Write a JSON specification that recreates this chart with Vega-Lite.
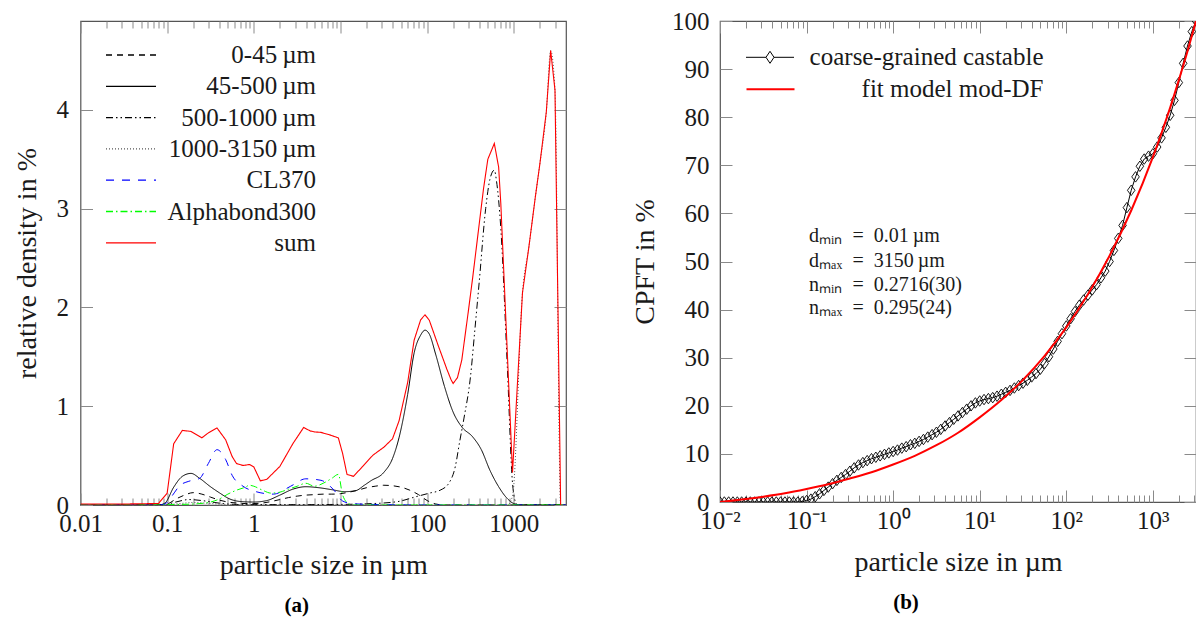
{
  "$schema": "https://vega.github.io/schema/vega-lite/v6.json",
  "background": "white",
  "padding": {"left": 11.5, "top": 8, "right": 0, "bottom": 0},
  "spacing": 153.5,
  "bounds": "flush",
  "resolve": {"scale": {"color": "independent", "strokeDash": "independent"}, "legend": {"color": "independent", "strokeDash": "independent"}},
  "config": {
    "font": "Liberation Serif",
    "view": {"stroke": "#555555", "strokeWidth": 1.2},
    "axis": {"grid": false, "domain": false, "tickColor": "#8a8a8a", "tickWidth": 1, "labelFont": "Liberation Serif", "labelFontSize": 25, "labelColor": "#1a1a1a", "titleFont": "Liberation Serif", "titleFontSize": 28, "titleFontWeight": "normal", "titleColor": "#1a1a1a"},
    "legend": {"labelFont": "Liberation Serif", "labelFontSize": 25, "labelColor": "#1a1a1a", "symbolType": "stroke", "padding": 0},
    "title": {"font": "Liberation Serif", "fontSize": 21, "fontWeight": "bold", "color": "#000000"}
  },
  "datasets": {
    "a": [
      {"x":0.01,"y":0,"s":"0-45\u2009µm"},{"x":0.0794,"y":0,"s":"0-45\u2009µm"},{"x":0.1,"y":0.01,"s":"0-45\u2009µm"},{"x":0.1259,"y":0.06,"s":"0-45\u2009µm"},{"x":0.1585,"y":0.10,"s":"0-45\u2009µm"},{"x":0.1995,"y":0.125,"s":"0-45\u2009µm"},{"x":0.2512,"y":0.11,"s":"0-45\u2009µm"},{"x":0.3162,"y":0.08,"s":"0-45\u2009µm"},{"x":0.3981,"y":0.05,"s":"0-45\u2009µm"},{"x":0.5012,"y":0.03,"s":"0-45\u2009µm"},{"x":0.631,"y":0.02,"s":"0-45\u2009µm"},{"x":0.7943,"y":0.015,"s":"0-45\u2009µm"},{"x":1,"y":0.015,"s":"0-45\u2009µm"},{"x":1.259,"y":0.02,"s":"0-45\u2009µm"},{"x":1.585,"y":0.035,"s":"0-45\u2009µm"},{"x":1.995,"y":0.055,"s":"0-45\u2009µm"},{"x":2.512,"y":0.075,"s":"0-45\u2009µm"},{"x":3.162,"y":0.09,"s":"0-45\u2009µm"},{"x":3.981,"y":0.1,"s":"0-45\u2009µm"},{"x":5.012,"y":0.105,"s":"0-45\u2009µm"},{"x":6.31,"y":0.11,"s":"0-45\u2009µm"},{"x":7.943,"y":0.11,"s":"0-45\u2009µm"},{"x":10,"y":0.115,"s":"0-45\u2009µm"},{"x":12.59,"y":0.13,"s":"0-45\u2009µm"},{"x":15.85,"y":0.15,"s":"0-45\u2009µm"},{"x":19.95,"y":0.175,"s":"0-45\u2009µm"},{"x":25.12,"y":0.19,"s":"0-45\u2009µm"},{"x":31.62,"y":0.2,"s":"0-45\u2009µm"},{"x":39.81,"y":0.195,"s":"0-45\u2009µm"},{"x":50.12,"y":0.18,"s":"0-45\u2009µm"},{"x":63.1,"y":0.15,"s":"0-45\u2009µm"},{"x":79.43,"y":0.105,"s":"0-45\u2009µm"},{"x":100,"y":0.045,"s":"0-45\u2009µm"},{"x":125.9,"y":0.01,"s":"0-45\u2009µm"},{"x":158.5,"y":0,"s":"0-45\u2009µm"},{"x":3981,"y":0,"s":"0-45\u2009µm"},

      {"x":0.01,"y":0,"s":"45-500\u2009µm"},{"x":0.0794,"y":0,"s":"45-500\u2009µm"},{"x":0.0944,"y":0.02,"s":"45-500\u2009µm"},{"x":0.1189,"y":0.18,"s":"45-500\u2009µm"},{"x":0.1496,"y":0.29,"s":"45-500\u2009µm"},{"x":0.1884,"y":0.32,"s":"45-500\u2009µm"},{"x":0.2371,"y":0.27,"s":"45-500\u2009µm"},{"x":0.3162,"y":0.185,"s":"45-500\u2009µm"},{"x":0.3981,"y":0.125,"s":"45-500\u2009µm"},{"x":0.5309,"y":0.06,"s":"45-500\u2009µm"},{"x":0.7079,"y":0.035,"s":"45-500\u2009µm"},{"x":1,"y":0.03,"s":"45-500\u2009µm"},{"x":1.413,"y":0.045,"s":"45-500\u2009µm"},{"x":1.995,"y":0.1,"s":"45-500\u2009µm"},{"x":2.818,"y":0.16,"s":"45-500\u2009µm"},{"x":3.981,"y":0.185,"s":"45-500\u2009µm"},{"x":5.623,"y":0.175,"s":"45-500\u2009µm"},{"x":7.943,"y":0.155,"s":"45-500\u2009µm"},{"x":11.22,"y":0.135,"s":"45-500\u2009µm"},{"x":14.96,"y":0.145,"s":"45-500\u2009µm"},{"x":18.84,"y":0.2,"s":"45-500\u2009µm"},{"x":22.39,"y":0.245,"s":"45-500\u2009µm"},{"x":31.62,"y":0.33,"s":"45-500\u2009µm"},{"x":39.81,"y":0.47,"s":"45-500\u2009µm"},{"x":47.32,"y":0.68,"s":"45-500\u2009µm"},{"x":59.57,"y":1.12,"s":"45-500\u2009µm"},{"x":70.79,"y":1.54,"s":"45-500\u2009µm"},{"x":84.14,"y":1.72,"s":"45-500\u2009µm"},{"x":94.41,"y":1.77,"s":"45-500\u2009µm"},{"x":105.9,"y":1.73,"s":"45-500\u2009µm"},{"x":125.9,"y":1.52,"s":"45-500\u2009µm"},{"x":158.5,"y":1.2,"s":"45-500\u2009µm"},{"x":199.5,"y":0.94,"s":"45-500\u2009µm"},{"x":251.2,"y":0.79,"s":"45-500\u2009µm"},{"x":335,"y":0.69,"s":"45-500\u2009µm"},{"x":421.7,"y":0.56,"s":"45-500\u2009µm"},{"x":530.9,"y":0.35,"s":"45-500\u2009µm"},{"x":668.3,"y":0.185,"s":"45-500\u2009µm"},{"x":841.4,"y":0.065,"s":"45-500\u2009µm"},{"x":1000,"y":0.015,"s":"45-500\u2009µm"},{"x":1259,"y":0,"s":"45-500\u2009µm"},{"x":3981,"y":0,"s":"45-500\u2009µm"},

      {"x":0.01,"y":0,"s":"500-1000\u2009µm"},{"x":0.0891,"y":0,"s":"500-1000\u2009µm"},{"x":0.1259,"y":0.03,"s":"500-1000\u2009µm"},{"x":0.1778,"y":0.055,"s":"500-1000\u2009µm"},{"x":0.2512,"y":0.045,"s":"500-1000\u2009µm"},{"x":0.3548,"y":0.025,"s":"500-1000\u2009µm"},{"x":0.5012,"y":0.01,"s":"500-1000\u2009µm"},{"x":0.7943,"y":0.004,"s":"500-1000\u2009µm"},{"x":3.162,"y":0.004,"s":"500-1000\u2009µm"},{"x":10,"y":0.006,"s":"500-1000\u2009µm"},{"x":19.95,"y":0.012,"s":"500-1000\u2009µm"},{"x":44.67,"y":0.033,"s":"500-1000\u2009µm"},{"x":74.99,"y":0.085,"s":"500-1000\u2009µm"},{"x":105.9,"y":0.12,"s":"500-1000\u2009µm"},{"x":141.3,"y":0.15,"s":"500-1000\u2009µm"},{"x":177.8,"y":0.22,"s":"500-1000\u2009µm"},{"x":211.3,"y":0.39,"s":"500-1000\u2009µm"},{"x":237.1,"y":0.64,"s":"500-1000\u2009µm"},{"x":266.1,"y":0.88,"s":"500-1000\u2009µm"},{"x":316.2,"y":1.3,"s":"500-1000\u2009µm"},{"x":354.8,"y":1.77,"s":"500-1000\u2009µm"},{"x":398.1,"y":2.25,"s":"500-1000\u2009µm"},{"x":473.2,"y":3.0,"s":"500-1000\u2009µm"},{"x":530.9,"y":3.3,"s":"500-1000\u2009µm"},{"x":595.7,"y":3.39,"s":"500-1000\u2009µm"},{"x":631,"y":3.28,"s":"500-1000\u2009µm"},{"x":707.9,"y":2.8,"s":"500-1000\u2009µm"},{"x":841.4,"y":1.4,"s":"500-1000\u2009µm"},{"x":966,"y":0.22,"s":"500-1000\u2009µm"},{"x":1059,"y":0.02,"s":"500-1000\u2009µm"},{"x":1122,"y":0,"s":"500-1000\u2009µm"},{"x":3981,"y":0,"s":"500-1000\u2009µm"},

      {"x":0.01,"y":0,"s":"1000-3150\u2009µm"},{"x":0.0891,"y":0,"s":"1000-3150\u2009µm"},{"x":0.1413,"y":0.015,"s":"1000-3150\u2009µm"},{"x":0.1995,"y":0.025,"s":"1000-3150\u2009µm"},{"x":0.3162,"y":0.015,"s":"1000-3150\u2009µm"},{"x":0.5012,"y":0.005,"s":"1000-3150\u2009µm"},{"x":1,"y":0,"s":"1000-3150\u2009µm"},{"x":841.4,"y":0,"s":"1000-3150\u2009µm"},{"x":966,"y":0.09,"s":"1000-3150\u2009µm"},{"x":1259,"y":2.15,"s":"1000-3150\u2009µm"},{"x":1496,"y":2.62,"s":"1000-3150\u2009µm"},{"x":1778,"y":3.13,"s":"1000-3150\u2009µm"},{"x":1995,"y":3.45,"s":"1000-3150\u2009µm"},{"x":2371,"y":3.98,"s":"1000-3150\u2009µm"},{"x":2661,"y":4.6,"s":"1000-3150\u2009µm"},{"x":2985,"y":4.2,"s":"1000-3150\u2009µm"},{"x":3470,"y":0,"s":"1000-3150\u2009µm"},{"x":3981,"y":0,"s":"1000-3150\u2009µm"},

      {"x":0.01,"y":0,"s":"CL370"},{"x":0.0794,"y":0,"s":"CL370"},{"x":0.0944,"y":0.01,"s":"CL370"},{"x":0.1122,"y":0.085,"s":"CL370"},{"x":0.1413,"y":0.2,"s":"CL370"},{"x":0.1778,"y":0.24,"s":"CL370"},{"x":0.2371,"y":0.27,"s":"CL370"},{"x":0.2985,"y":0.42,"s":"CL370"},{"x":0.3758,"y":0.56,"s":"CL370"},{"x":0.4732,"y":0.46,"s":"CL370"},{"x":0.5623,"y":0.3,"s":"CL370"},{"x":0.7499,"y":0.19,"s":"CL370"},{"x":1.059,"y":0.135,"s":"CL370"},{"x":1.679,"y":0.11,"s":"CL370"},{"x":2.661,"y":0.19,"s":"CL370"},{"x":3.981,"y":0.265,"s":"CL370"},{"x":5.957,"y":0.25,"s":"CL370"},{"x":8.414,"y":0.15,"s":"CL370"},{"x":10.59,"y":0.04,"s":"CL370"},{"x":14.13,"y":0.012,"s":"CL370"},{"x":31.62,"y":0.004,"s":"CL370"},{"x":100,"y":0,"s":"CL370"},{"x":3981,"y":0,"s":"CL370"},

      {"x":0.01,"y":0,"s":"Alphabond300"},{"x":0.0794,"y":0,"s":"Alphabond300"},{"x":0.1,"y":0.003,"s":"Alphabond300"},{"x":0.1995,"y":0.01,"s":"Alphabond300"},{"x":0.3162,"y":0.03,"s":"Alphabond300"},{"x":0.3981,"y":0.06,"s":"Alphabond300"},{"x":0.5012,"y":0.11,"s":"Alphabond300"},{"x":0.631,"y":0.15,"s":"Alphabond300"},{"x":0.7943,"y":0.18,"s":"Alphabond300"},{"x":0.8913,"y":0.2,"s":"Alphabond300"},{"x":1,"y":0.19,"s":"Alphabond300"},{"x":1.259,"y":0.15,"s":"Alphabond300"},{"x":1.585,"y":0.12,"s":"Alphabond300"},{"x":1.995,"y":0.13,"s":"Alphabond300"},{"x":2.512,"y":0.16,"s":"Alphabond300"},{"x":3.162,"y":0.19,"s":"Alphabond300"},{"x":3.981,"y":0.22,"s":"Alphabond300"},{"x":5.012,"y":0.19,"s":"Alphabond300"},{"x":6.31,"y":0.22,"s":"Alphabond300"},{"x":7.943,"y":0.27,"s":"Alphabond300"},{"x":9.441,"y":0.31,"s":"Alphabond300"},{"x":10.59,"y":0.1,"s":"Alphabond300"},{"x":12.59,"y":0.01,"s":"Alphabond300"},{"x":14.13,"y":0,"s":"Alphabond300"},{"x":3981,"y":0,"s":"Alphabond300"},

      {"x":0.01,"y":0.01,"s":"sum"},{"x":0.0316,"y":0.01,"s":"sum"},{"x":0.0794,"y":0.015,"s":"sum"},{"x":0.1,"y":0.12,"s":"sum"},{"x":0.1189,"y":0.62,"s":"sum"},{"x":0.1496,"y":0.755,"s":"sum"},{"x":0.1884,"y":0.745,"s":"sum"},{"x":0.2512,"y":0.68,"s":"sum"},{"x":0.2985,"y":0.73,"s":"sum"},{"x":0.3758,"y":0.78,"s":"sum"},{"x":0.4732,"y":0.66,"s":"sum"},{"x":0.5623,"y":0.49,"s":"sum"},{"x":0.631,"y":0.42,"s":"sum"},{"x":0.7499,"y":0.4,"s":"sum"},{"x":0.8913,"y":0.41,"s":"sum"},{"x":1,"y":0.385,"s":"sum"},{"x":1.189,"y":0.245,"s":"sum"},{"x":1.413,"y":0.26,"s":"sum"},{"x":1.995,"y":0.39,"s":"sum"},{"x":2.818,"y":0.62,"s":"sum"},{"x":3.758,"y":0.785,"s":"sum"},{"x":4.467,"y":0.75,"s":"sum"},{"x":5.012,"y":0.74,"s":"sum"},{"x":5.957,"y":0.735,"s":"sum"},{"x":7.499,"y":0.71,"s":"sum"},{"x":9.441,"y":0.68,"s":"sum"},{"x":10.59,"y":0.52,"s":"sum"},{"x":11.89,"y":0.31,"s":"sum"},{"x":14.13,"y":0.29,"s":"sum"},{"x":17.78,"y":0.385,"s":"sum"},{"x":23.71,"y":0.505,"s":"sum"},{"x":31.62,"y":0.585,"s":"sum"},{"x":39.81,"y":0.67,"s":"sum"},{"x":47.32,"y":0.85,"s":"sum"},{"x":59.57,"y":1.24,"s":"sum"},{"x":70.79,"y":1.67,"s":"sum"},{"x":84.14,"y":1.875,"s":"sum"},{"x":94.41,"y":1.926,"s":"sum"},{"x":105.9,"y":1.87,"s":"sum"},{"x":133.4,"y":1.62,"s":"sum"},{"x":167.9,"y":1.38,"s":"sum"},{"x":188.4,"y":1.27,"s":"sum"},{"x":199.5,"y":1.23,"s":"sum"},{"x":223.9,"y":1.29,"s":"sum"},{"x":251.2,"y":1.47,"s":"sum"},{"x":298.5,"y":1.96,"s":"sum"},{"x":335,"y":2.3,"s":"sum"},{"x":398.1,"y":2.84,"s":"sum"},{"x":446.7,"y":3.2,"s":"sum"},{"x":501.2,"y":3.5,"s":"sum"},{"x":595.7,"y":3.66,"s":"sum"},{"x":668.3,"y":3.42,"s":"sum"},{"x":707.9,"y":3.05,"s":"sum"},{"x":966,"y":0.33,"s":"sum"},{"x":1259,"y":2.15,"s":"sum"},{"x":1496,"y":2.62,"s":"sum"},{"x":1778,"y":3.13,"s":"sum"},{"x":1995,"y":3.45,"s":"sum"},{"x":2371,"y":3.98,"s":"sum"},{"x":2661,"y":4.6,"s":"sum"},{"x":2985,"y":4.2,"s":"sum"},{"x":3470,"y":0,"s":"sum"}
    ],
    "b": [
      {"x":0.01,"y":0,"s":"coarse-grained castable"},{"x":0.01122,"y":0,"s":"coarse-grained castable"},{"x":0.01259,"y":0,"s":"coarse-grained castable"},{"x":0.01413,"y":0,"s":"coarse-grained castable"},{"x":0.01585,"y":0,"s":"coarse-grained castable"},{"x":0.01778,"y":0,"s":"coarse-grained castable"},{"x":0.01995,"y":0,"s":"coarse-grained castable"},{"x":0.02239,"y":0,"s":"coarse-grained castable"},{"x":0.02512,"y":0,"s":"coarse-grained castable"},{"x":0.02818,"y":0,"s":"coarse-grained castable"},{"x":0.03162,"y":0,"s":"coarse-grained castable"},{"x":0.03548,"y":0,"s":"coarse-grained castable"},{"x":0.03981,"y":0,"s":"coarse-grained castable"},{"x":0.04467,"y":0,"s":"coarse-grained castable"},{"x":0.05012,"y":0,"s":"coarse-grained castable"},{"x":0.05623,"y":0,"s":"coarse-grained castable"},{"x":0.0631,"y":0,"s":"coarse-grained castable"},{"x":0.07079,"y":0,"s":"coarse-grained castable"},{"x":0.07943,"y":0,"s":"coarse-grained castable"},{"x":0.08913,"y":0.1,"s":"coarse-grained castable"},
      {"x":0.1,"y":0.3,"s":"coarse-grained castable"},{"x":0.1122,"y":0.6,"s":"coarse-grained castable"},{"x":0.1259,"y":1.1,"s":"coarse-grained castable"},{"x":0.1413,"y":1.7,"s":"coarse-grained castable"},{"x":0.1585,"y":2.4,"s":"coarse-grained castable"},{"x":0.1778,"y":3.1,"s":"coarse-grained castable"},{"x":0.1995,"y":3.8,"s":"coarse-grained castable"},{"x":0.2239,"y":4.5,"s":"coarse-grained castable"},{"x":0.2512,"y":5.1,"s":"coarse-grained castable"},{"x":0.2818,"y":5.7,"s":"coarse-grained castable"},{"x":0.3162,"y":6.4,"s":"coarse-grained castable"},{"x":0.3548,"y":7.1,"s":"coarse-grained castable"},{"x":0.3981,"y":7.7,"s":"coarse-grained castable"},{"x":0.4467,"y":8.2,"s":"coarse-grained castable"},{"x":0.5012,"y":8.6,"s":"coarse-grained castable"},{"x":0.5623,"y":9.0,"s":"coarse-grained castable"},{"x":0.631,"y":9.3,"s":"coarse-grained castable"},{"x":0.7079,"y":9.6,"s":"coarse-grained castable"},{"x":0.7943,"y":9.9,"s":"coarse-grained castable"},{"x":0.8913,"y":10.2,"s":"coarse-grained castable"},
      {"x":1,"y":10.5,"s":"coarse-grained castable"},{"x":1.122,"y":10.8,"s":"coarse-grained castable"},{"x":1.259,"y":11.2,"s":"coarse-grained castable"},{"x":1.413,"y":11.5,"s":"coarse-grained castable"},{"x":1.585,"y":11.9,"s":"coarse-grained castable"},{"x":1.778,"y":12.2,"s":"coarse-grained castable"},{"x":1.995,"y":12.6,"s":"coarse-grained castable"},{"x":2.239,"y":13.0,"s":"coarse-grained castable"},{"x":2.512,"y":13.5,"s":"coarse-grained castable"},{"x":2.818,"y":14.0,"s":"coarse-grained castable"},{"x":3.162,"y":14.5,"s":"coarse-grained castable"},{"x":3.548,"y":15.1,"s":"coarse-grained castable"},{"x":3.981,"y":15.8,"s":"coarse-grained castable"},{"x":4.467,"y":16.5,"s":"coarse-grained castable"},{"x":5.012,"y":17.2,"s":"coarse-grained castable"},{"x":5.623,"y":17.9,"s":"coarse-grained castable"},{"x":6.31,"y":18.6,"s":"coarse-grained castable"},{"x":7.079,"y":19.3,"s":"coarse-grained castable"},{"x":7.943,"y":20.0,"s":"coarse-grained castable"},{"x":8.913,"y":20.6,"s":"coarse-grained castable"},
      {"x":10,"y":21.0,"s":"coarse-grained castable"},{"x":11.22,"y":21.3,"s":"coarse-grained castable"},{"x":12.59,"y":21.5,"s":"coarse-grained castable"},{"x":14.13,"y":21.7,"s":"coarse-grained castable"},{"x":15.85,"y":22.0,"s":"coarse-grained castable"},{"x":17.78,"y":22.4,"s":"coarse-grained castable"},{"x":19.95,"y":22.8,"s":"coarse-grained castable"},{"x":22.39,"y":23.2,"s":"coarse-grained castable"},{"x":25.12,"y":23.7,"s":"coarse-grained castable"},{"x":28.18,"y":24.2,"s":"coarse-grained castable"},{"x":31.62,"y":24.7,"s":"coarse-grained castable"},{"x":35.48,"y":25.3,"s":"coarse-grained castable"},{"x":39.81,"y":26.0,"s":"coarse-grained castable"},{"x":44.67,"y":26.7,"s":"coarse-grained castable"},{"x":50.12,"y":27.6,"s":"coarse-grained castable"},{"x":56.23,"y":28.8,"s":"coarse-grained castable"},{"x":63.1,"y":30.2,"s":"coarse-grained castable"},{"x":70.79,"y":31.8,"s":"coarse-grained castable"},{"x":79.43,"y":33.4,"s":"coarse-grained castable"},{"x":89.13,"y":35.0,"s":"coarse-grained castable"},
      {"x":100,"y":36.6,"s":"coarse-grained castable"},{"x":112.2,"y":38.1,"s":"coarse-grained castable"},{"x":125.9,"y":39.6,"s":"coarse-grained castable"},{"x":141.3,"y":40.9,"s":"coarse-grained castable"},{"x":158.5,"y":42.0,"s":"coarse-grained castable"},{"x":177.8,"y":43.0,"s":"coarse-grained castable"},{"x":199.5,"y":44.1,"s":"coarse-grained castable"},{"x":223.9,"y":45.2,"s":"coarse-grained castable"},{"x":251.2,"y":46.6,"s":"coarse-grained castable"},{"x":281.8,"y":48.0,"s":"coarse-grained castable"},{"x":316.2,"y":50.0,"s":"coarse-grained castable"},{"x":354.8,"y":52.3,"s":"coarse-grained castable"},{"x":398.1,"y":54.8,"s":"coarse-grained castable"},{"x":446.7,"y":57.5,"s":"coarse-grained castable"},{"x":501.2,"y":61.2,"s":"coarse-grained castable"},{"x":562.3,"y":64.8,"s":"coarse-grained castable"},{"x":631,"y":67.6,"s":"coarse-grained castable"},{"x":707.9,"y":69.8,"s":"coarse-grained castable"},{"x":794.3,"y":71.3,"s":"coarse-grained castable"},{"x":891.3,"y":71.9,"s":"coarse-grained castable"},
      {"x":1000,"y":72.4,"s":"coarse-grained castable"},{"x":1122,"y":73.8,"s":"coarse-grained castable"},{"x":1259,"y":75.7,"s":"coarse-grained castable"},{"x":1413,"y":77.9,"s":"coarse-grained castable"},{"x":1585,"y":80.4,"s":"coarse-grained castable"},{"x":1778,"y":83.5,"s":"coarse-grained castable"},{"x":1995,"y":87.2,"s":"coarse-grained castable"},{"x":2239,"y":91.2,"s":"coarse-grained castable"},{"x":2512,"y":94.8,"s":"coarse-grained castable"},{"x":2818,"y":97.8,"s":"coarse-grained castable"},{"x":3150,"y":100,"s":"coarse-grained castable"},

      {"x":0.01,"y":0,"s":"fit model mod-DF"},{"x":0.01778,"y":0.5,"s":"fit model mod-DF"},{"x":0.03162,"y":1.1,"s":"fit model mod-DF"},{"x":0.05623,"y":1.8,"s":"fit model mod-DF"},{"x":0.1,"y":2.7,"s":"fit model mod-DF"},{"x":0.1778,"y":3.7,"s":"fit model mod-DF"},{"x":0.3162,"y":4.9,"s":"fit model mod-DF"},{"x":0.5623,"y":6.2,"s":"fit model mod-DF"},{"x":1,"y":7.8,"s":"fit model mod-DF"},{"x":1.778,"y":9.6,"s":"fit model mod-DF"},{"x":3.162,"y":11.8,"s":"fit model mod-DF"},{"x":5.623,"y":14.4,"s":"fit model mod-DF"},{"x":10,"y":17.6,"s":"fit model mod-DF"},{"x":17.78,"y":21.2,"s":"fit model mod-DF"},{"x":31.62,"y":25.4,"s":"fit model mod-DF"},{"x":56.23,"y":30.4,"s":"fit model mod-DF"},{"x":100,"y":36.3,"s":"fit model mod-DF"},{"x":177.8,"y":43.2,"s":"fit model mod-DF"},{"x":316.2,"y":51.2,"s":"fit model mod-DF"},{"x":562.3,"y":60.6,"s":"fit model mod-DF"},{"x":1000,"y":71.7,"s":"fit model mod-DF"},{"x":1259,"y":76.7,"s":"fit model mod-DF"},{"x":1585,"y":82.0,"s":"fit model mod-DF"},{"x":1995,"y":87.7,"s":"fit model mod-DF"},{"x":2512,"y":93.7,"s":"fit model mod-DF"},{"x":3150,"y":100,"s":"fit model mod-DF"}
    ],
    "notes": [
      {"x":0.107,"y":55.2,"t":"dₘᵢₙ\u2002=\u20020.01\u2009µm"},
      {"x":0.107,"y":50.1,"t":"dₘₐₓ\u2002=\u20023150\u2009µm"},
      {"x":0.107,"y":45.2,"t":"nₘᵢₙ\u2002=\u20020.2716(30)"},
      {"x":0.107,"y":40.4,"t":"nₘₐₓ\u2002=\u20020.295(24)"}
    ]
  },
  "hconcat": [
    {
      "width": 485.5,
      "height": 484,
      "title": {"text": "(a)", "orient": "bottom", "frame": "bounds", "anchor": "middle", "offset": 16, "dx": 7},
      "resolve": {"axis": {"x": "independent", "y": "independent"}},
      "layer": [
        {
          "data": {"name": "a"},
          "transform": [{"filter": "datum.s !== 'sum'"}],
          "mark": {"type": "line", "strokeWidth": 1, "clip": true, "interpolate": "monotone"},
          "encoding": {
            "x": {"field": "x", "type": "quantitative", "scale": {"type": "log", "domain": [0.01, 4000], "nice": false},
              "axis": {"orient": "bottom", "values": [0.01,0.02,0.03,0.04,0.05,0.06,0.07,0.08,0.09,0.1,0.2,0.3,0.4,0.5,0.6,0.7,0.8,0.9,1,2,3,4,5,6,7,8,9,10,20,30,40,50,60,70,80,90,100,200,300,400,500,600,700,800,900,1000,2000,3000],
                "labelExpr": "indexof([0.01,0.1,1,10,100,1000], datum.value) >= 0 ? toString(datum.value) : ''",
                "tickSize": {"condition": {"test": "indexof([0.01,0.1,1,10,100,1000], datum.value) >= 0", "value": -12}, "value": -7},
                "labelPadding": 18, "labelFlush": false, "labelOverlap": false,
                "title": "particle size in µm", "titlePadding": 10}},
            "y": {"field": "y", "type": "quantitative", "scale": {"domain": [0, 4.9], "nice": false, "zero": false},
              "axis": {"orient": "left", "values": [0,1,2,3,4], "tickSize": -12, "labelPadding": 24, "title": "relative density in %", "titlePadding": 15}},
            "color": {"field": "s", "type": "nominal",
              "scale": {"domain": ["0-45\u2009µm","45-500\u2009µm","500-1000\u2009µm","1000-3150\u2009µm","CL370","Alphabond300","sum"],
                        "range": ["#000000","#000000","#000000","#555555","#0000ff","#00ff00","#ff0000"]},
              "legend": {"orient": "none", "legendX": 24.5, "legendY": 19.5, "title": null, "symbolSize": 2500, "clipHeight": 29, "rowPadding": 2.3, "labelOffset": 159, "labelLimit": 300, "labelAlign": "right", "symbolStrokeWidth": 1.3}},
            "strokeDash": {"field": "s", "type": "nominal",
              "scale": {"domain": ["0-45\u2009µm","45-500\u2009µm","500-1000\u2009µm","1000-3150\u2009µm","CL370","Alphabond300","sum"],
                        "range": [[6,5],[1,0],[7,3,1.5,3,1.5,3],[1,2],[8,8],[7,3,1.5,3],[1,0]]},
              "legend": {"orient": "none", "legendX": 24.5, "legendY": 19.5, "title": null, "symbolSize": 2500, "clipHeight": 29, "rowPadding": 2.3, "labelOffset": 159, "labelLimit": 300, "labelAlign": "right", "symbolStrokeWidth": 1.3}}
          }
        },
        {
          "data": {"name": "a"},
          "transform": [{"filter": "datum.s === 'sum'"}],
          "mark": {"type": "line", "strokeWidth": 1.1, "clip": true},
          "encoding": {
            "x": {"field": "x", "type": "quantitative",
              "axis": {"orient": "top", "values": [0.01,0.02,0.03,0.04,0.05,0.06,0.07,0.08,0.09,0.1,0.2,0.3,0.4,0.5,0.6,0.7,0.8,0.9,1,2,3,4,5,6,7,8,9,10,20,30,40,50,60,70,80,90,100,200,300,400,500,600,700,800,900,1000,2000,3000],
                "labels": false, "title": null,
                "tickSize": {"condition": {"test": "indexof([0.01,0.1,1,10,100,1000], datum.value) >= 0", "value": -12}, "value": -7}}},
            "y": {"field": "y", "type": "quantitative", "axis": {"orient": "right", "values": [0,1,2,3,4], "labels": false, "title": null, "tickSize": -12}},
            "color": {"field": "s", "type": "nominal"},
            "strokeDash": {"field": "s", "type": "nominal"}
          }
        }
      ]
    },
    {
      "width": 476,
      "height": 481,
      "title": {"text": "(b)", "orient": "bottom", "frame": "bounds", "anchor": "middle", "offset": 16, "dx": -8},
      "resolve": {"axis": {"x": "independent", "y": "independent"}, "scale": {"color": "independent"}, "legend": {"color": "independent"}},
      "layer": [
        {
          "data": {"name": "b"},
          "transform": [{"filter": "datum.s === 'coarse-grained castable'"}],
          "mark": {"type": "line", "strokeWidth": 1, "clip": true},
          "encoding": {
            "x": {"field": "x", "type": "quantitative", "scale": {"type": "log", "domain": [0.01, 3150], "nice": false},
              "axis": {"orient": "bottom", "values": [0.01,0.02,0.03,0.04,0.05,0.06,0.07,0.08,0.09,0.1,0.2,0.3,0.4,0.5,0.6,0.7,0.8,0.9,1,2,3,4,5,6,7,8,9,10,20,30,40,50,60,70,80,90,100,200,300,400,500,600,700,800,900,1000,2000,3000],
                "labelExpr": "datum.value === 0.01 ? '10⁻²' : datum.value === 0.1 ? '10⁻¹' : datum.value === 1 ? '10⁰' : datum.value === 10 ? '10¹' : datum.value === 100 ? '10²' : datum.value === 1000 ? '10³' : ''",
                "tickSize": {"condition": {"test": "indexof([0.01,0.1,1,10,100,1000], datum.value) >= 0", "value": -12}, "value": -7},
                "labelPadding": 18, "labelFlush": false, "labelOverlap": false,
                "title": "particle size in µm", "titlePadding": 10}},
            "y": {"field": "y", "type": "quantitative", "scale": {"domain": [0, 100], "nice": false},
              "axis": {"orient": "left", "values": [0,10,20,30,40,50,60,70,80,90,100], "tickSize": -12, "labelPadding": 23, "title": "CPFT in %", "titlePadding": 12}},
            "color": {"field": "s", "type": "nominal",
              "scale": {"domain": ["coarse-grained castable"], "range": ["#000000"]},
              "legend": {"orient": "none", "legendX": 25.5, "legendY": 21.3, "title": null, "symbolType": "M-1,0H-0.167M-0.167,0L0,-0.25L0.167,0L0,0.25Z M0.167,0H1", "symbolSize": 2304, "symbolFillColor": "transparent", "clipHeight": 30, "labelOffset": 249, "labelLimit": 400, "labelAlign": "right", "symbolStrokeWidth": 1}}
          }
        },
        {
          "data": {"name": "b"},
          "transform": [{"filter": "datum.s === 'coarse-grained castable'"}],
          "mark": {"type": "point", "shape": "M0,-1L0.72,0L0,1L-0.72,0Z", "size": 110, "filled": false, "stroke": "#000000", "strokeWidth": 0.9, "opacity": 1, "clip": true},
          "encoding": {
            "x": {"field": "x", "type": "quantitative", "axis": null},
            "y": {"field": "y", "type": "quantitative", "axis": null}
          }
        },
        {
          "data": {"name": "b"},
          "transform": [{"filter": "datum.s === 'fit model mod-DF'"}],
          "mark": {"type": "line", "strokeWidth": 2, "clip": true, "interpolate": "monotone"},
          "encoding": {
            "x": {"field": "x", "type": "quantitative",
              "axis": {"orient": "top", "values": [0.01,0.02,0.03,0.04,0.05,0.06,0.07,0.08,0.09,0.1,0.2,0.3,0.4,0.5,0.6,0.7,0.8,0.9,1,2,3,4,5,6,7,8,9,10,20,30,40,50,60,70,80,90,100,200,300,400,500,600,700,800,900,1000,2000,3000],
                "labels": false, "title": null,
                "tickSize": {"condition": {"test": "indexof([0.01,0.1,1,10,100,1000], datum.value) >= 0", "value": -12}, "value": -7}}},
            "y": {"field": "y", "type": "quantitative", "axis": {"orient": "right", "values": [0,10,20,30,40,50,60,70,80,90,100], "labels": false, "title": null, "tickSize": -12}},
            "color": {"field": "s", "type": "nominal",
              "scale": {"domain": ["fit model mod-DF"], "range": ["#ff0000"]},
              "legend": {"orient": "none", "legendX": 25.5, "legendY": 53.3, "title": null, "symbolType": "stroke", "symbolSize": 2304, "clipHeight": 30, "labelOffset": 248, "labelLimit": 400, "labelAlign": "right", "symbolStrokeWidth": 2}}
          }
        },
        {
          "data": {"name": "notes"},
          "mark": {"type": "text", "align": "left", "baseline": "middle", "fontSize": 20, "font": "Liberation Serif", "color": "#1a1a1a"},
          "encoding": {
            "x": {"field": "x", "type": "quantitative", "axis": null},
            "y": {"field": "y", "type": "quantitative", "axis": null},
            "text": {"field": "t"}
          }
        }
      ]
    }
  ]
}
